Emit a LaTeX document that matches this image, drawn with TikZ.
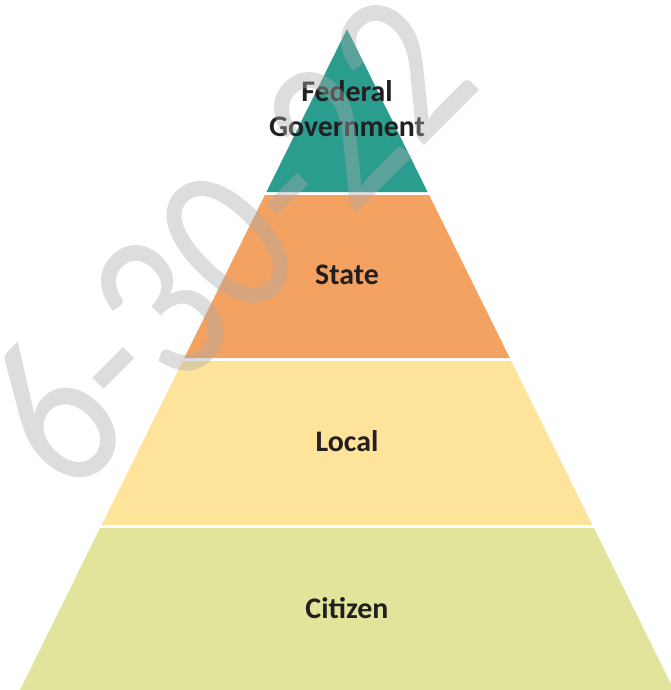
\documentclass[tikz,border=0pt]{standalone}
\usepackage{fontspec}
\setmainfont{Carlito}
\definecolor{fedteal}{HTML}{2A9D8F}
\definecolor{stateorange}{HTML}{F4A261}
\definecolor{localyellow}{HTML}{FEE49A}
\definecolor{citizengreen}{HTML}{E1E49A}
\definecolor{labeltext}{HTML}{231F20}
\begin{document}
\begin{tikzpicture}[
        x=0.02cm, y=-0.02cm,
        band/.style={draw=none},
        level/.style={align=center, text=labeltext, font=\fontsize{17}{20}\selectfont\bfseries},
        stamp/.style={rotate=45, yscale=1.18, text=black!33, text opacity=0.4, font=\fontsize{106}{106}\selectfont}
    ]
    \useasboundingbox (0,0) rectangle (671,690);

    % Define bands
    \fill[band, fedteal] (347,29) -- (427.6,192) -- (266.4,192) -- cycle;
    \fill[band, stateorange] (264.9,195) -- (429.1,195) -- (509.8,358) -- (184.2,358) -- cycle;
    \fill[band, localyellow] (182.8,361) -- (511.2,361) -- (592.4,525) -- (101.6,525) -- cycle;
    \fill[band, citizengreen] (100.1,528) -- (593.9,528) -- (674,690) -- (20,690) -- cycle;

    % Define labels
    \node[level] (federal) at (347,109) {Federal\\Government};
    \node[level] (state) at (347,275) {State};
    \node[level] (local) at (347,441) {Local};
    \node[level] (citizen) at (347,608) {Citizen};

    % Date stamp
    \node[stamp] (date) at (226,240) {6-30-22};

    \end{tikzpicture}
\end{document}
